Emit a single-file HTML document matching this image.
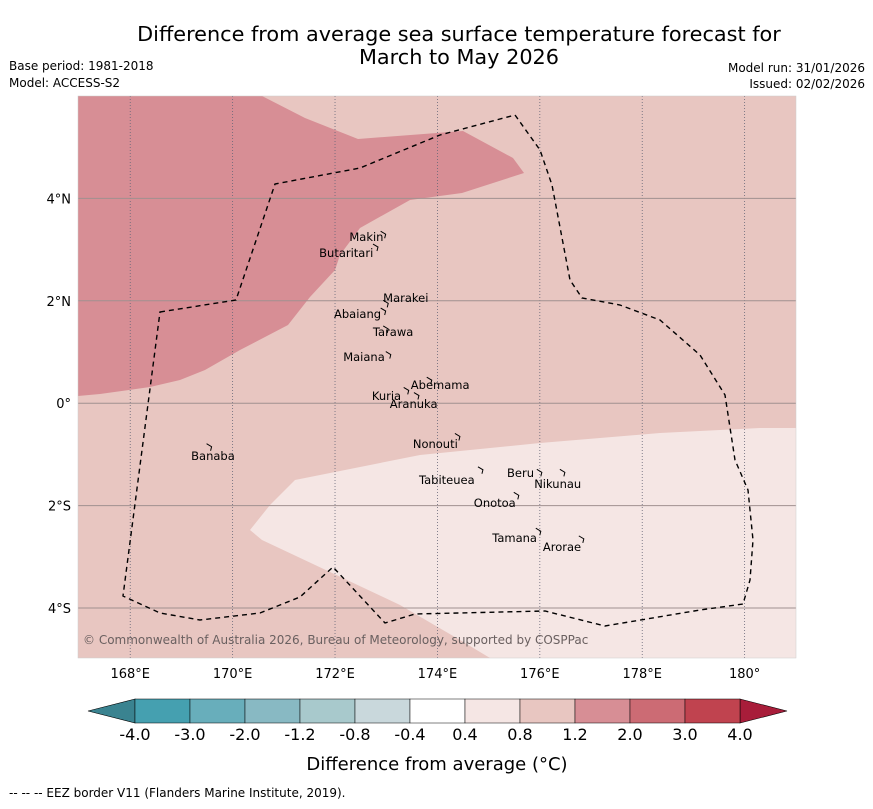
<!DOCTYPE html>
<html><head><meta charset="utf-8"><style>
body{margin:0;background:#fff;font-family:"Liberation Sans","DejaVu Sans",sans-serif}
svg text{font-family:"DejaVu Sans","Liberation Sans",sans-serif}
</style></head><body>
<svg id="s" width="873" height="804" xmlns="http://www.w3.org/2000/svg">
<text x="459" y="41" font-size="20.8" text-anchor="middle">Difference from average sea surface temperature forecast for</text>
<text x="459" y="64" font-size="20.8" text-anchor="middle">March to May 2026</text>
<text x="9" y="70" font-size="12">Base period: 1981-2018</text>
<text x="9" y="87" font-size="12">Model: ACCESS-S2</text>
<text x="865" y="72" font-size="12" text-anchor="end">Model run: 31/01/2026</text>
<text x="865" y="88" font-size="12" text-anchor="end">Issued: 02/02/2026</text>
<g id="map"></g>
<g id="cb"></g>
<text x="437" y="770" font-size="18" text-anchor="middle">Difference from average (°C)</text>
<text x="9" y="797" font-size="12">--  --  -- EEZ border V11 (Flanders Marine Institute, 2019).</text>
</svg>
<script>
const lonTicks=[168,170,172,174,176,178,180];
const latTicks=[4,2,0,-2,-4];
const levels=["-4.0","-3.0","-2.0","-1.2","-0.8","-0.4","0.4","0.8","1.2","2.0","3.0","4.0"];
const binColors=["#45a0b0","#68aebb","#88b9c3","#a8c9cc","#c9d8dc","#ffffff","#f5e6e4","#e8c6c1","#d78e95","#cc6b74","#c0434f"];
const islands=[["Makin",172.95,3.3,172.28,3.25],["Butaritari",172.8,3.05,171.69,2.93],["Marakei",173.0,1.95,172.94,2.05],["Abaiang",172.95,1.8,171.98,1.74],["Tarawa",173.0,1.45,172.74,1.39],["Maiana",173.05,0.95,172.16,0.9],["Abemama",173.85,0.45,173.48,0.36],["Kuria",173.4,0.25,172.72,0.14],["Aranuka",173.6,0.15,173.07,-0.02],["Nonouti",174.4,-0.65,173.52,-0.8],["Banaba",169.55,-0.85,169.19,-1.03],["Tabiteuea",174.85,-1.3,173.64,-1.5],["Beru",176.0,-1.35,175.36,-1.36],["Nikunau",176.45,-1.35,175.89,-1.58],["Onotoa",175.55,-1.8,174.71,-1.95],["Tamana",175.98,-2.5,175.07,-2.63],["Arorae",176.82,-2.65,176.06,-2.81]];
const X0=78,X1=796,Y0=96,Y1=658,LON0=166.98,LAT0=6.0,PX=51.2;
const xs=lon=>X0+(lon-LON0)*PX, ys=lat=>Y0+(LAT0-lat)*PX;
const NS="http://www.w3.org/2000/svg";
function mk(t,a,p){const e=document.createElementNS(NS,t);for(const k in a)e.setAttribute(k,a[k]);(p||map).appendChild(e);return e;}
const map=document.getElementById('map'),cb=document.getElementById('cb');
mk('rect',{x:X0,y:Y0,width:X1-X0,height:Y1-Y0,fill:'#e8c6c1'});
mk('path',{fill:'#d78e95',d:'M78,96L262,96L305,118L358,139L463,131L513,158L524,173L462,193L410,200L360,228L340,255L335,270L310,297L288,325L240,350L205,370L180,380L150,387L100,394L78,396Z'});
mk('path',{fill:'#f5e6e4',d:'M796,428L760,428L660,433L540,443L420,455L295,480L270,505L250,530L262,540L330,572L400,605L460,640L490,658L796,658Z'});
lonTicks.forEach(l=>{const x=xs(l);
const g=mk('line',{x1:x,x2:x,y1:Y0,y2:Y1,stroke:'#667',"stroke-width":0.8,"stroke-dasharray":'1,2'});

const t=mk('text',{x:x,y:678,"font-size":13,"text-anchor":'middle'});t.textContent=l===180?'180°':l+'°E';
});
latTicks.forEach(l=>{const y=ys(l);
const g=mk('line',{x1:X0,x2:X1,y1:y,y2:y,stroke:'#a09090',"stroke-width":1});

const t=mk('text',{x:71,y:y+5,"font-size":13,"text-anchor":'end'});t.textContent=l===0?'0°':Math.abs(l)+'°'+(l>0?'N':'S');
});
const eez=mk('path',{fill:'none',stroke:'#000',"stroke-width":1.4,"stroke-dasharray":'5,4',d:'M160,312L236,300L275,184L360,168L440,135L515,115L540,150L552,185L570,280L582,298L620,305L660,320L700,355L725,395L735,460L748,490L753,540L750,580L743,604L700,610L605,626L545,611L415,614L385,623L333,567L300,597L260,613L200,620L160,613L123,596Z'});

islands.forEach(d=>{const x=xs(d[1]),y=ys(d[2]);
const p=mk('path',{d:`M${x-3},${y-3}L${x+2},${y}L${x+1},${y+4}`,fill:'none',stroke:'#000',"stroke-width":1});

const t=mk('text',{x:xs(d[3]),y:ys(d[4])+4,"font-size":11.5});t.textContent=d[0];
});
const c=mk('text',{x:83,y:644,"font-size":12,fill:'#6a6060'});c.textContent='© Commonwealth of Australia 2026, Bureau of Meteorology, supported by COSPPac';

mk('rect',{x:X0,y:Y0,width:X1-X0,height:Y1-Y0,fill:'none',stroke:'#ccc',"stroke-width":0.5});
const B0=135,B1=740,BY=699,BH=24,bw=(B1-B0)/binColors.length;
const lt=mk('path',{d:`M${B0},${BY}L88,${BY+BH/2}L${B0},${BY+BH}Z`,fill:'#3a8390',stroke:'#000',"stroke-width":0.6},cb);

const rt=mk('path',{d:`M${B1},${BY}L787,${BY+BH/2}L${B1},${BY+BH}Z`,fill:'#a81d3a',stroke:'#000',"stroke-width":0.6},cb);

binColors.forEach((col,i)=>{const r=mk('rect',{x:B0+i*bw,y:BY,width:bw,height:BH,fill:col,stroke:'#000',"stroke-width":0.5},cb);
});
levels.forEach((l,i)=>{const t=mk('text',{x:B0+i*bw,y:740,"font-size":16,"text-anchor":'middle'},cb);t.textContent=l;
});
</script>
</body></html>
